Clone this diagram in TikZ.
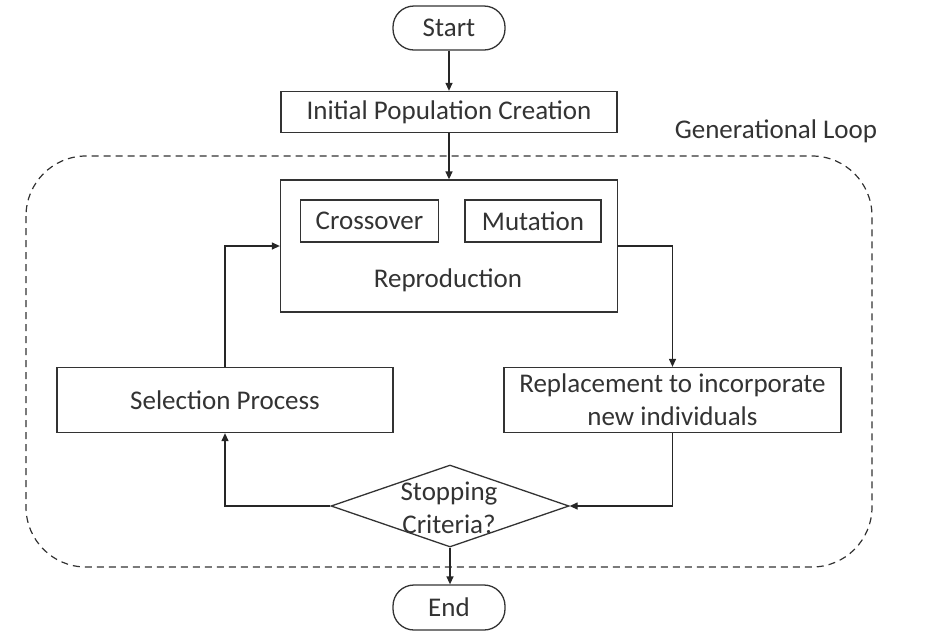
\documentclass[tikz,border=0pt]{standalone}
\usepackage{fontspec}
\setmainfont{Carlito}
\usetikzlibrary{shapes.geometric,arrows.meta}
\begin{document}
\begin{tikzpicture}[x=1pt,y=-1pt,
  every node/.style={font=\fontsize{27}{33}\selectfont, text=black!80},
  box/.style={draw=black!80, line width=1.3pt, inner sep=0pt, align=center},
  term/.style={box, rounded corners=21pt},
  arr/.style={draw=black!85, line width=1.3pt, -{Triangle[length=8pt,width=7pt]}},
  loop/.style={draw=black!80, line width=1.2pt, dash pattern=on 7pt off 5pt, rounded corners=60pt}
  ]
\useasboundingbox (0,0) rectangle (932,641);
\draw[loop] (26,156) rectangle (872,567);
\node (looplabel) at (776,131) {Generational Loop};
\node[term, minimum width=112pt, minimum height=44pt] (start) at (449,28) {Start};
\node[box, minimum width=336pt, minimum height=41pt] (init) at (449,112) {Initial Population Creation};
\node[box, minimum width=337pt, minimum height=132pt] (repro) at (449,246) {};
\node (reprolabel) at (448,280) {Reproduction};
\node[box, minimum width=138pt, minimum height=42pt] (cross) at (369.5,221) {Crossover};
\node[box, minimum width=136pt, minimum height=42pt] (mut) at (533,221) {Mutation};
\node[box, minimum width=337pt, minimum height=65pt] (repl) at (672.5,400) {Replacement to incorporate\\new individuals};
\node[box, minimum width=336pt, minimum height=65pt] (sel) at (225,400) {Selection Process};
\node[draw=black!80, line width=1.3pt, diamond, aspect=2.9, inner sep=0pt, minimum width=238pt, minimum height=82pt] (dia) at (450,506) {};
\node[align=center, inner sep=0pt] (dialabel) at (449,508) {Stopping\\Criteria?};
\node[term, minimum width=112pt, minimum height=45pt] (end) at (449,607.5) {End};
\draw[arr] (start) -- (init);
\draw[arr] (init) -- (repro);
\draw[arr] (repro.east) -| (repl.north);
\draw[arr] (repl.south) |- (dia.east);
\draw[arr] (dia.west) -| (sel.south);
\draw[arr] (sel.north) |- (repro.west);
\draw[arr] (dia.south) -- (end.north -| dia.south);
\end{tikzpicture}
\end{document}
